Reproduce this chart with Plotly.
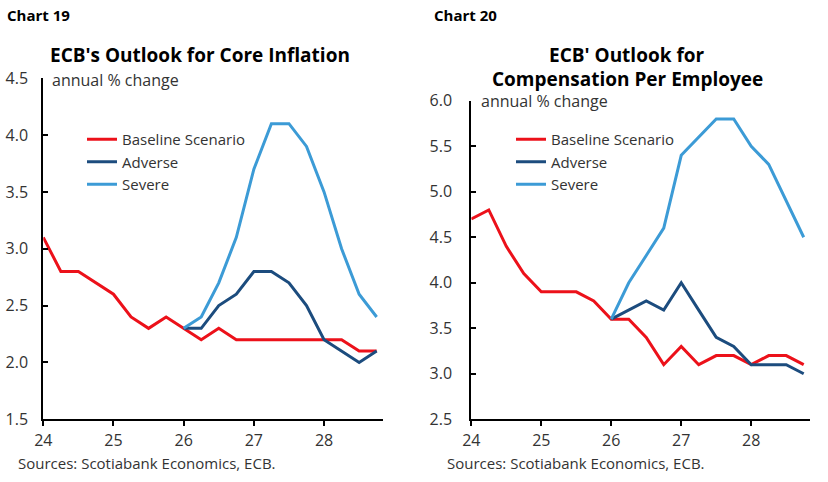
import plotly.graph_objects as go

# ---------------- data ----------------
quarters = [24 + i / 4 for i in range(20)]  # 2024Q1 .. 2028Q4
tick_vals = [24, 25, 26, 27, 28]
tick_text = ["24", "25", "26", "27", "28"]

core_baseline = [3.1, 2.8, 2.8, 2.7, 2.6, 2.4, 2.3, 2.4, 2.3, 2.2,
                 2.3, 2.2, 2.2, 2.2, 2.2, 2.2, 2.2, 2.2, 2.1, 2.1]
core_adverse = [None] * 8 + [2.3, 2.3, 2.5, 2.6, 2.8, 2.8, 2.7, 2.5, 2.2, 2.1, 2.0, 2.1]
core_severe = [None] * 8 + [2.3, 2.4, 2.7, 3.1, 3.7, 4.1, 4.1, 3.9, 3.5, 3.0, 2.6, 2.4]

comp_baseline = [4.7, 4.8, 4.4, 4.1, 3.9, 3.9, 3.9, 3.8, 3.6, 3.6,
                 3.4, 3.1, 3.3, 3.1, 3.2, 3.2, 3.1, 3.2, 3.2, 3.1]
comp_adverse = [None] * 8 + [3.6, 3.7, 3.8, 3.7, 4.0, 3.7, 3.4, 3.3, 3.1, 3.1, 3.1, 3.0]
comp_severe = [None] * 8 + [3.6, 4.0, 4.3, 4.6, 5.4, 5.6, 5.8, 5.8, 5.5, 5.3, 4.9, 4.5]

series_names = ["Baseline Scenario", "Adverse", "Severe"]
colors = ["#EC111A", "#1C4C7E", "#3C9BD6"]

W, H = 828, 482
FONT = "Open Sans"
TXT = "#333333"


def px_x(v):
    return v / W


def px_y(v):
    return 1 - v / H


fig = go.Figure()

for name, ys, c in zip(series_names, [core_baseline, core_adverse, core_severe], colors):
    fig.add_trace(go.Scatter(x=quarters, y=ys, mode="lines", name=name,
                             line=dict(color=c, width=3), xaxis="x", yaxis="y",
                             legend="legend", connectgaps=False))
for name, ys, c in zip(series_names, [comp_baseline, comp_adverse, comp_severe], colors):
    fig.add_trace(go.Scatter(x=quarters, y=ys, mode="lines", name=name,
                             line=dict(color=c, width=3), xaxis="x2", yaxis="y2",
                             legend="legend2", connectgaps=False))

axis_common = dict(showline=True, linecolor="black", linewidth=2, showgrid=False,
                   zeroline=False, automargin=False,
                   tickfont=dict(family=FONT, size=16, color=TXT))

xcommon = dict(axis_common, tickvals=tick_vals, ticktext=tick_text, ticks="outside",
               ticklen=5, tickwidth=2, tickcolor="black", range=[24, 28.84])
ycommon = dict(axis_common, ticks="inside", ticklen=5, tickwidth=2, tickcolor="black",
               dtick=0.5, tickformat=".1f")

legend_common = dict(font=dict(family=FONT, size=15, color=TXT), bgcolor="rgba(0,0,0,0)",
                     tracegroupgap=0, itemwidth=30, xanchor="left", yanchor="top")

fig.update_layout(
    width=W, height=H, margin=dict(l=0, r=0, t=0, b=0, autoexpand=False),
    paper_bgcolor="white", plot_bgcolor="white",
    showlegend=True,
    xaxis=dict(xcommon, domain=[px_x(43.3), px_x(383)], anchor="y"),
    yaxis=dict(ycommon, domain=[px_y(419.3), px_y(78.2)], range=[1.5, 4.5], anchor="x",
               ticklabelstandoff=10),
    xaxis2=dict(xcommon, domain=[px_x(471.3), px_x(810)], anchor="y2"),
    yaxis2=dict(ycommon, domain=[px_y(419.3), px_y(100.7)], range=[2.5, 6.0], anchor="x2",
                ticklabelstandoff=14),
    legend=dict(legend_common, x=px_x(82), y=px_y(123)),
    legend2=dict(legend_common, x=px_x(511), y=px_y(123)),
)

annotations = [
    dict(text="<b>Chart 19</b>", x=px_x(5), y=px_y(15), size=15, xa="left", color="black"),
    dict(text="<b>Chart 20</b>", x=px_x(432), y=px_y(15), size=15, xa="left", color="black"),
    dict(text="<b>ECB's Outlook for Core Inflation</b>", x=px_x(200), y=px_y(55), size=19, xa="center", color="black"),
    dict(text="<b>ECB' Outlook for</b>", x=px_x(627), y=px_y(55), size=19, xa="center", color="black"),
    dict(text="<b>Compensation Per Employee</b>", x=px_x(627), y=px_y(79), size=19, xa="center", color="black"),
    dict(text="annual % change", x=px_x(50), y=px_y(80), size=16, xa="left", color=TXT),
    dict(text="annual % change", x=px_x(479), y=px_y(101), size=16, xa="left", color=TXT),
    dict(text="Sources: Scotiabank Economics, ECB.", x=px_x(16), y=px_y(463), size=15, xa="left", color=TXT),
    dict(text="Sources: Scotiabank Economics, ECB.", x=px_x(445), y=px_y(463), size=15, xa="left", color=TXT),
]
for a in annotations:
    fig.add_annotation(text=a["text"], x=a["x"], y=a["y"], xref="paper", yref="paper",
                       xanchor=a["xa"], yanchor="middle", showarrow=False,
                       font=dict(family=FONT, size=a["size"], color=a["color"]))

fig.write_html("out.html")
